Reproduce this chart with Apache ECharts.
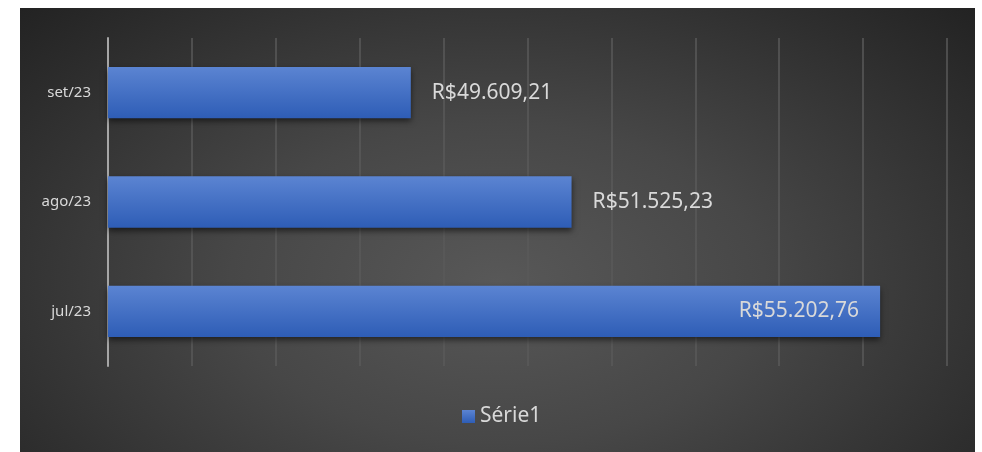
<!DOCTYPE html>
<html>
<head>
<meta charset="utf-8">
<script src="https://cdn.jsdelivr.net/npm/echarts@6/dist/echarts.min.js"></script>
<style>
  body { margin: 0; background: #fff; }
  #panel {
    position: absolute; left: 20px; top: 8px; width: 955px; height: 444px;
    background: radial-gradient(ellipse 70% 90% at 50% 62%, #585858 0%, #474747 40%, #2e2e2e 80%, #222 100%);
  }
  #chart { position: absolute; left: 0; top: 0; width: 982px; height: 452px; }
</style>
</head>
<body>
<div id="panel"></div>
<div id="chart"></div>
<script>
// months, bottom to top
var months = ['jul/23', 'ago/23', 'set/23'];
var totals = [55202.76, 51525.23, 49609.21];
var seriesName = 'Série1';

function brl(v) {
  var parts = v.toFixed(2).split('.');
  var intPart = parts[0].replace(/\B(?=(\d{3})+(?!\d))/g, '.');
  return 'R$' + intPart + ',' + parts[1];
}

var maxVal = Math.max.apply(null, totals);

var chart = echarts.init(document.getElementById('chart'));

var option = {
  backgroundColor: 'transparent',
  textStyle: { fontFamily: 'Noto Sans' },
  grid: { left: 108, right: 35, top: 38, bottom: 86 },
  legend: {
    bottom: 20,
    left: 457,
    icon: 'rect',
    itemWidth: 13,
    itemHeight: 13,
    itemGap: 4,
    textStyle: { color: '#d9d9d9', fontSize: 21, fontFamily: 'Noto Sans', padding: [0, 0, 0, 0] },
    data: [seriesName]
  },
  xAxis: {
    type: 'value',
    min: 46000,
    max: 56000,
    interval: 1000,
    axisLabel: { show: false },
    axisLine: { show: false },
    axisTick: { show: false },
    splitLine: { lineStyle: { color: '#5a5a5a', width: 1.5 } }
  },
  yAxis: {
    type: 'category',
    data: months,
    axisTick: { show: false },
    axisLine: { lineStyle: { color: '#a6a6a6', width: 2 } },
    axisLabel: { color: '#d9d9d9', fontSize: 15, margin: 17 }
  },
  series: [{
    name: seriesName,
    type: 'bar',
    barWidth: '47%',
    itemStyle: {
      color: new echarts.graphic.LinearGradient(0, 0, 0, 1, [
        { offset: 0, color: '#5b84d2' },
        { offset: 1, color: '#2e5db6' }
      ]),
      shadowColor: 'rgba(0,0,0,0.55)',
      shadowBlur: 6,
      shadowOffsetY: 3
    },
    data: totals.map(function (v) {
      return {
        value: v,
        label: { position: v === maxVal ? 'insideRight' : 'right' }
      };
    }),
    label: {
      show: true,
      distance: 21,
      color: '#d9d9d9',
      fontSize: 21,
      fontFamily: 'Noto Sans',
      formatter: function (p) { return brl(p.value); }
    }
  }]
};

chart.setOption(option);
</script>
</body>
</html>
